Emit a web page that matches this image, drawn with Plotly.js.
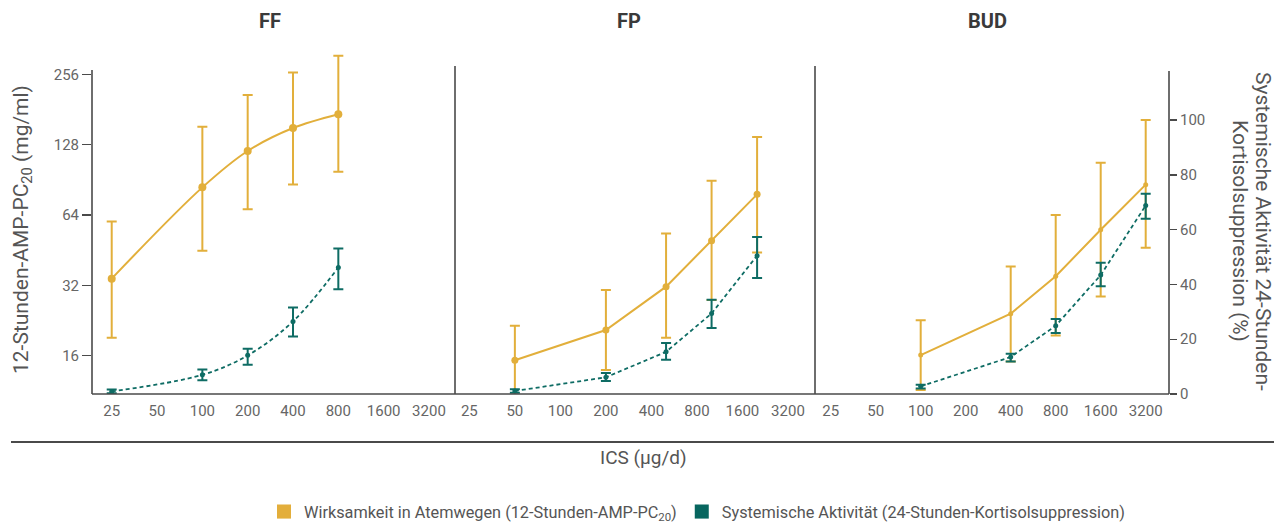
<!DOCTYPE html>
<html>
<head>
<meta charset="utf-8">
<script src="https://cdn.plot.ly/plotly-3.0.1.min.js"></script>
<style>html,body{margin:0;padding:0;background:#fff;}</style>
</head>
<body>
<div id="chart" style="width:1285px;height:526px;"></div>
<script>
// ---- Data ----
const tickVals = [25, 50, 100, 200, 400, 800, 1600, 3200];
const tickText = ['25', '50', '100', '200', '400', '800', '1600', '3200'];

// FF
const ffDose = [25, 100, 200, 400, 800];
const ffPC20 = [34.2, 84.1, 120.4, 151, 173];
const ffPC20Upper = [60.1, 153, 209, 261, 308];
const ffPC20Lower = [19.1, 45.0, 67.7, 86.6, 98];
const ffCort = [0.95, 7.0, 14.1, 26.5, 46.2];
const ffCortUpper = [1.6, 8.9, 16.5, 31.6, 53.1];
const ffCortLower = [0.3, 5.0, 10.7, 21.0, 38.2];

// FP
const fpDose = [50, 200, 500, 1000, 2000];
const fpPC20 = [15.3, 20.6, 31.6, 49.7, 78.5];
const fpPC20Upper = [21.5, 30.6, 53.4, 89.8, 138.2];
const fpPC20Lower = [10.6, 13.9, 19.1, 27.7, 44.2];
const fpCort = [1.1, 6.1, 15.4, 29.4, 50.5];
const fpCortUpper = [1.7, 7.7, 18.6, 34.4, 57.3];
const fpCortLower = [0.5, 4.7, 12.5, 24.1, 42.3];

// BUD
const budDose = [100, 400, 800, 1600, 3200];
const budPC20 = [16.1, 24.2, 35.0, 55.4, 86.4];
const budPC20Upper = [22.7, 38.5, 64.1, 107.3, 163.5];
const budPC20Lower = [11.4, 15.1, 19.5, 28.7, 46.4];
const budCort = [2.8, 13.5, 24.9, 43.4, 68.8];
const budCortUpper = [3.4, 14.7, 27.4, 47.9, 73.1];
const budCortLower = [2.0, 11.9, 22.3, 39.3, 64.0];

const pc20Ticks = [16, 32, 64, 128, 256];
const cortTicks = [0, 20, 40, 60, 80, 100];

const panelTitles = ['FF', 'FP', 'BUD'];
const leftTitle = '12-Stunden-AMP-PC<sub>20</sub> (mg/ml)';
const rightTitleLines = ['Systemische Aktivität 24-Stunden-', 'Kortisolsuppression (%)'];
const xTitle = 'ICS (µg/d)';
const legendNames = ['Wirksamkeit in Atemwegen (12-Stunden-AMP-PC<sub>20</sub>)',
                     'Systemische Aktivität (24-Stunden-Kortisolsuppression)'];

// ---- Styles ----
const YEL = '#E2AF3B';
const TEAL = '#0E6C64';
const FONT = 'Roboto, "Open Sans", sans-serif';
const AXC = '#4a4a4a';

function errArr(v, hi, lo) {
  return {
    type: 'data', symmetric: false,
    array: hi.map((h, i) => h - v[i]),
    arrayminus: lo.map((l, i) => v[i] - l)
  };
}

function yelTrace(x, y, hi, lo, xa, shape, msize) {
  const e = errArr(y, hi, lo);
  e.color = YEL; e.thickness = 2; e.width = 5;
  return {
    type: 'scatter', mode: 'lines+markers', x: x, y: y,
    xaxis: xa, yaxis: 'y', showlegend: false,
    line: {color: YEL, width: 2, shape: shape, smoothing: 1},
    marker: {color: YEL, size: msize},
    error_y: e, hoverinfo: 'skip'
  };
}
function tealTrace(x, y, hi, lo, xa, shape) {
  const e = errArr(y, hi, lo);
  e.color = TEAL; e.thickness = 2; e.width = 5;
  return {
    type: 'scatter', mode: 'lines+markers', x: x, y: y,
    xaxis: xa, yaxis: 'y2', showlegend: false,
    line: {color: TEAL, width: 1.8, dash: '4px,3px', shape: shape, smoothing: 1},
    marker: {color: TEAL, size: 5},
    error_y: e, hoverinfo: 'skip'
  };
}

const traces = [
  yelTrace(ffDose, ffPC20, ffPC20Upper, ffPC20Lower, 'x', 'spline', 8),
  tealTrace(ffDose, ffCort, ffCortUpper, ffCortLower, 'x', 'spline'),
  yelTrace(fpDose, fpPC20, fpPC20Upper, fpPC20Lower, 'x2', 'linear', 7),
  tealTrace(fpDose, fpCort, fpCortUpper, fpCortLower, 'x2', 'linear'),
  yelTrace(budDose, budPC20, budPC20Upper, budPC20Lower, 'x3', 'linear', 5),
  tealTrace(budDose, budCort, budCortUpper, budCortLower, 'x3', 'linear'),
  {type: 'scatter', mode: 'markers', x: [null], y: [null], xaxis: 'x', yaxis: 'y',
   name: legendNames[0], marker: {color: '#E3AE3B', size: 14, symbol: 'square'}},
  {type: 'scatter', mode: 'markers', x: [null], y: [null], xaxis: 'x', yaxis: 'y',
   name: legendNames[1], marker: {color: '#07665F', size: 14, symbol: 'square'}}
];

// pixel -> paper helpers (plot area: x 92..1169, y 50..394)
const PL = 92, PR = 1169, PT = 50, PB = 394;
const px = v => (v - PL) / (PR - PL);
const py = v => (PB - v) / (PB - PT);

function xAx(domain, range) {
  return {
    type: 'log', domain: domain, range: range, anchor: 'y',
    tickvals: tickVals, ticktext: tickText, ticks: '',
    ticklabelstandoff: 6,
    showline: false, showgrid: false, zeroline: false,
    tickfont: {family: FONT, size: 15, color: '#666'}
  };
}

const lineStyle = {color: AXC, width: 1.6};
const shapes = [
  {type: 'line', xref: 'paper', yref: 'paper', x0: 0, x1: 0, y0: 0, y1: py(70), line: lineStyle},
  {type: 'line', xref: 'paper', yref: 'paper', x0: px(455), x1: px(455), y0: 0, y1: py(66), line: lineStyle},
  {type: 'line', xref: 'paper', yref: 'paper', x0: px(815), x1: px(815), y0: 0, y1: py(66), line: lineStyle},
  {type: 'line', xref: 'paper', yref: 'paper', x0: 1, x1: 1, y0: 0, y1: py(71), line: lineStyle},
  {type: 'line', xref: 'paper', yref: 'paper', x0: 0, x1: 1, y0: 0, y1: 0, line: lineStyle},
  {type: 'line', xref: 'paper', yref: 'paper', x0: px(11), x1: px(1274), y0: py(442), y1: py(442), line: {color: AXC, width: 2}}
];

const titleFont = {family: FONT, size: 20, color: '#3a3a3a'};
const axTitleFont = {family: FONT, size: 21, color: '#555'};
const xTitleFont = {family: FONT, size: 19, color: '#555'};
function ann(text, x, y, font, angle) {
  return {text: text, x: px(x), y: py(y), xref: 'paper', yref: 'paper',
          xanchor: 'center', yanchor: 'middle', showarrow: false,
          textangle: angle || 0, font: font};
}
const annotations = [
  ann('<b>' + panelTitles[0] + '</b>', 270, 21, titleFont),
  ann('<b>' + panelTitles[1] + '</b>', 629, 21, titleFont),
  ann('<b>' + panelTitles[2] + '</b>', 988, 21, titleFont),
  ann(leftTitle, 22, 230, axTitleFont, -90),
  ann(rightTitleLines[0], 1263, 231, axTitleFont, 90),
  ann(rightTitleLines[1], 1240, 231, axTitleFont, 90),
  ann(xTitle, 643, 458, xTitleFont)
];

const layout = {
  width: 1285, height: 526,
  margin: {l: PL, r: 1285 - PR, t: PT, b: 526 - PB, pad: 0, autoexpand: false},
  paper_bgcolor: '#fff', plot_bgcolor: '#fff',
  font: {family: FONT},
  xaxis: xAx([0, px(455)], [1.267, 3.678]),
  xaxis2: xAx([px(455), px(815)], [1.303, 3.684]),
  xaxis3: xAx([px(815), 1], [1.293, 3.661]),
  yaxis: {
    type: 'log', range: [1.040, 2.513], anchor: 'x', side: 'left',
    tickvals: pc20Ticks, ticktext: pc20Ticks.map(String),
    ticks: 'outside', ticklen: 9, tickcolor: AXC, tickwidth: 1.4,
    showline: false, showgrid: false, zeroline: false,
    tickfont: {family: FONT, size: 15, color: '#666'}
  },
  yaxis2: {
    type: 'linear', range: [0, 125.55], overlaying: 'y', anchor: 'x3', side: 'right',
    tickvals: cortTicks, ticktext: cortTicks.map(String),
    ticks: 'outside', ticklen: 7, tickcolor: AXC, tickwidth: 1.4,
    showline: false, showgrid: false, zeroline: false,
    tickfont: {family: FONT, size: 15, color: '#666'}
  },
  showlegend: true,
  legend: {
    orientation: 'h', x: px(697), xanchor: 'center', y: py(512), yanchor: 'middle',
    font: {family: FONT, size: 16.3, color: '#555'}, bgcolor: 'rgba(0,0,0,0)'
  },
  shapes: shapes,
  annotations: annotations
};

Plotly.newPlot('chart', traces, layout, {displayModeBar: false, staticPlot: true});
</script>
</body>
</html>
